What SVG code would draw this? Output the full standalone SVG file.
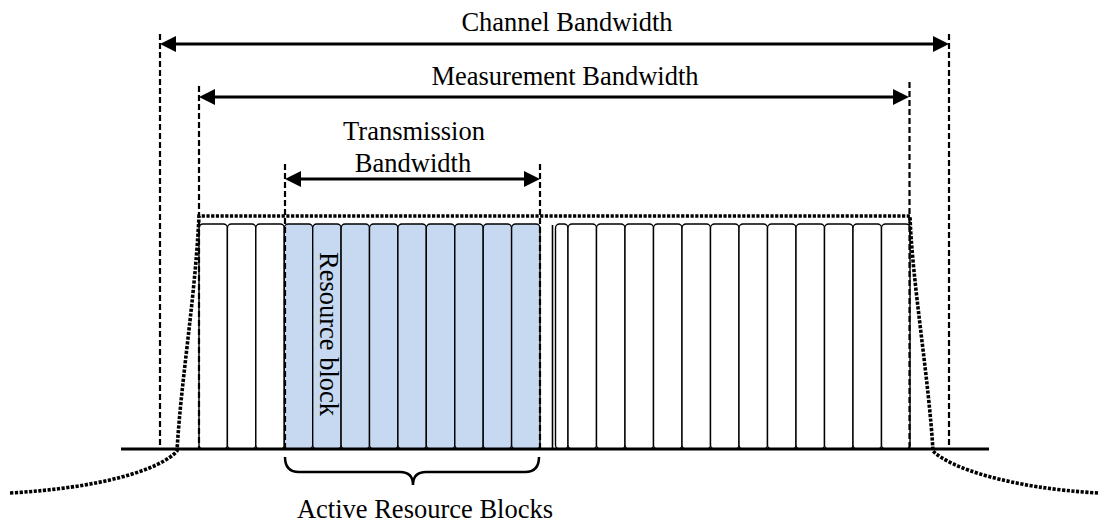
<svg xmlns="http://www.w3.org/2000/svg" width="1101" height="524" viewBox="0 0 1101 524">
  <style>
    text { font-family: "Liberation Serif", "Times New Roman", serif; font-size: 26.5px; fill: #000; }
    .rb { fill: #fff; stroke: #000; stroke-width: 1.4; }
    .rb.active { fill: #C6D9F0; }
    .guide { fill: none; stroke: #000; stroke-width: 2.2; stroke-dasharray: 6 3; }
    .dim { fill: none; stroke: #000; stroke-width: 3; marker-start: url(#arrow); marker-end: url(#arrow); }
    .mask { fill: none; stroke: #000; stroke-width: 3.6; stroke-dasharray: 3.2 1.5; }
    .axis { stroke: #000; stroke-width: 3; }
    .brace { fill: none; stroke: #000; stroke-width: 2.5; }
  </style>
  <defs>
    <marker id="arrow" markerUnits="userSpaceOnUse" markerWidth="16" markerHeight="16" refX="0" refY="8" orient="auto-start-reverse" overflow="visible">
      <path d="M0,0 L16,8 L0,16 z" fill="#000"/>
    </marker>
  </defs>
  <rect width="1101" height="524" fill="#fff"/>

  <!-- resource grid, left of the centre carrier -->
  <g id="rb-left">
    <rect class="rb" x="199" y="224" width="28.4" height="225" rx="4"/>
    <rect class="rb" x="227.4" y="224" width="28.4" height="225" rx="4"/>
    <rect class="rb" x="255.8" y="224" width="28.5" height="225" rx="4"/>
  </g>
  <g id="rb-active">
    <rect class="rb active" x="284.3" y="224" width="28.4" height="225" rx="4"/>
    <rect class="rb active" x="312.7" y="224" width="28.4" height="225" rx="4"/>
    <rect class="rb active" x="341.1" y="224" width="28.4" height="225" rx="4"/>
    <rect class="rb active" x="369.5" y="224" width="28.4" height="225" rx="4"/>
    <rect class="rb active" x="397.9" y="224" width="28.4" height="225" rx="4"/>
    <rect class="rb active" x="426.3" y="224" width="28.5" height="225" rx="4"/>
    <rect class="rb active" x="454.8" y="224" width="28.4" height="225" rx="4"/>
    <rect class="rb active" x="483.2" y="224" width="28.4" height="225" rx="4"/>
    <rect class="rb active" x="511.6" y="224" width="28.4" height="225" rx="4"/>
  </g>
  <!-- centre carrier -->
  <g id="dc">
    <line x1="552.5" y1="225" x2="552.5" y2="449" stroke="#000" stroke-width="1.6"/>
    <rect class="rb" x="555.5" y="224" width="12.5" height="225" rx="4"/>
  </g>
  <g id="rb-right">
    <rect class="rb" x="568" y="224" width="28.5" height="225" rx="4"/>
    <rect class="rb" x="596.5" y="224" width="28.5" height="225" rx="4"/>
    <rect class="rb" x="625" y="224" width="28.5" height="225" rx="4"/>
    <rect class="rb" x="653.5" y="224" width="28.5" height="225" rx="4"/>
    <rect class="rb" x="682" y="224" width="28.5" height="225" rx="4"/>
    <rect class="rb" x="710.5" y="224" width="28.5" height="225" rx="4"/>
    <rect class="rb" x="739" y="224" width="28.5" height="225" rx="4"/>
    <rect class="rb" x="767.5" y="224" width="28.5" height="225" rx="4"/>
    <rect class="rb" x="796" y="224" width="28.5" height="225" rx="4"/>
    <rect class="rb" x="824.5" y="224" width="28.5" height="225" rx="4"/>
    <rect class="rb" x="853" y="224" width="28.5" height="225" rx="4"/>
    <rect class="rb" x="881.5" y="224" width="28.5" height="225" rx="4"/>
  </g>
  <g id="rb-label">
    <text transform="translate(319.5,334) rotate(90)" text-anchor="middle">Resource block</text>
  </g>

  <!-- dimension guides and arrows -->
  <g id="connectors">
    <line class="guide" x1="160" y1="34" x2="160" y2="449"/>
    <line class="guide" x1="949" y1="34" x2="949" y2="449"/>
    <line class="guide" x1="199" y1="86" x2="199" y2="449"/>
    <line class="guide" x1="909.5" y1="82" x2="909.5" y2="449"/>
    <line class="guide" x1="285" y1="164" x2="285" y2="449"/>
    <line class="guide" x1="540" y1="164" x2="540" y2="449"/>
    <line class="dim" x1="176" y1="44" x2="933" y2="44"/>
    <line class="dim" x1="215" y1="97" x2="893" y2="97"/>
    <line class="dim" x1="301" y1="179" x2="524" y2="179"/>
  </g>

  <!-- spectrum emission mask -->
  <g id="mask">
    <path class="mask" d="M10,493 C100,488 160,470 177,451 C181,380 195,300 199,216 H910 C912,280 929,380 933,451 C950,468 1010,488 1098,493"/>
  </g>

  <!-- frequency axis -->
  <g id="axis">
    <line class="axis" x1="121" y1="449" x2="989" y2="449"/>
  </g>

  <g id="labels">
    <text x="567" y="31" text-anchor="middle">Channel Bandwidth</text>
    <text x="565" y="85" text-anchor="middle">Measurement Bandwidth</text>
    <text x="414" y="140" text-anchor="middle">Transmission</text>
    <text x="413" y="172" text-anchor="middle">Bandwidth</text>
  </g>

  <g id="active-blocks">
    <path class="brace" d="M285,457 Q285,472 299,472 H400 Q413,472 413,485 Q413,472 426,472 H525 Q539,472 539,457"/>
    <text x="425" y="518" text-anchor="middle">Active Resource Blocks</text>
  </g>
</svg>
